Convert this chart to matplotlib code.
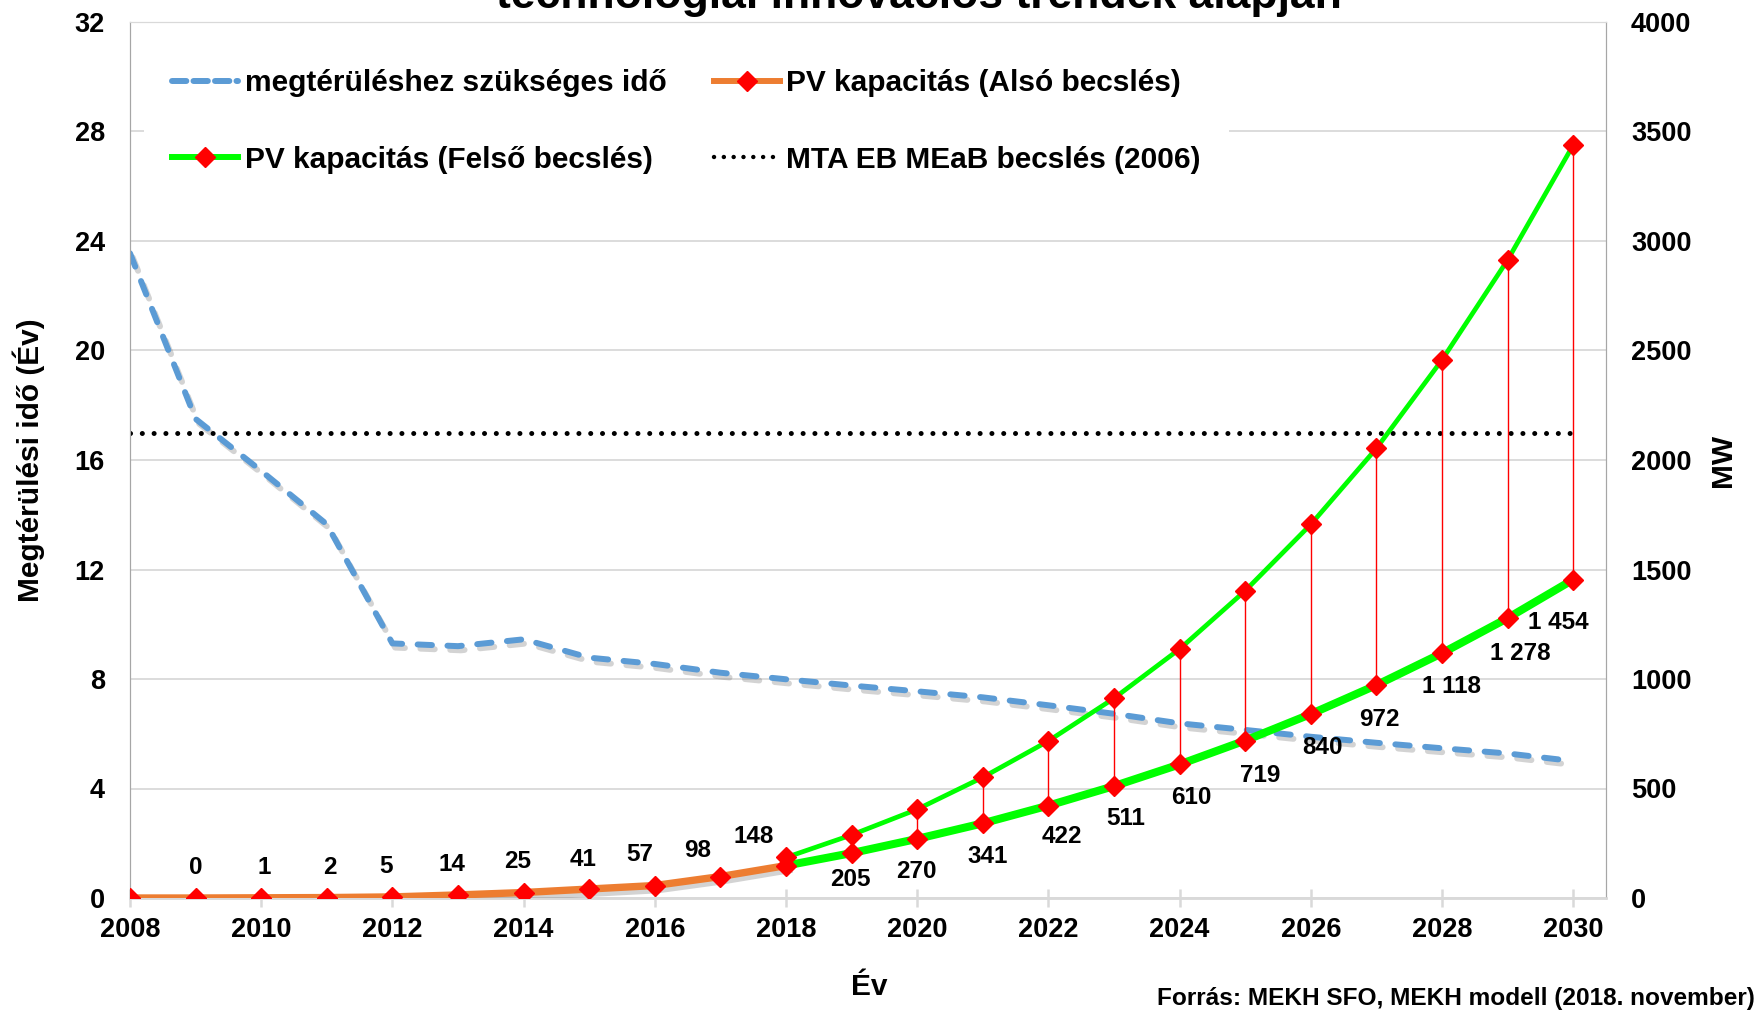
import matplotlib
matplotlib.use('Agg')
import matplotlib.pyplot as plt
import matplotlib.patheffects as pe
from matplotlib.lines import Line2D

plt.rcParams['font.family'] = ['Liberation Sans', 'DejaVu Sans']
plt.rcParams['font.weight'] = 'bold'

# ---------------- data ----------------
years = list(range(2008, 2031))
payback_years = [23.55, 17.5, 15.6, 13.65, 9.3, 9.2, 9.45, 8.78, 8.55, 8.23, 7.99,
                 7.76, 7.55, 7.33, 7.04, 6.73, 6.38, 6.14, 5.89, 5.67, 5.47, 5.28, 5.0]
pv_lower = [0, 0, 1, 2, 5, 14, 25, 41, 57, 98, 148,
            205, 270, 341, 422, 511, 610, 719, 840, 972, 1118, 1278, 1454]
upper_years = list(range(2018, 2031))
pv_upper = [185, 288, 405, 551, 717, 912, 1137, 1403, 1706, 2053, 2457, 2913, 3438]
mta_estimate = 17.0
hist_end = 2018
label_years = list(range(2009, 2031))

legend_labels = ['megtérüléshez szükséges idő', 'PV kapacitás (Felső becslés)',
                 'PV kapacitás (Alsó becslés)', 'MTA EB MEaB becslés (2006)']
title = 'technológiai innovációs trendek alapján'
source = 'Forrás: MEKH SFO, MEKH modell (2018. november)'

# label offsets in pixels (style)
lab_dx = [0, 3, 3, -6, -6, -6, -6, -15, -23, -32, -1, -1, 5, 13, 12, 12, 15, 12, 3, 10, 13, -15]
lab_dy = [30, 30, 30, 30, 30, 31, 30, 31, 26, 29, -26, -33, -33, -31, -32, -33, -35, -33, -34, -33, -35, -43]

BLUE = '#5B9BD5'
ORANGE = '#ED7D31'
GREEN = '#00FF00'
RED = '#FF0000'
GRID = '#D9D9D9'
FS_TICK = 19.5
FS_LAB = 21.5

W, H = 1758, 1011
fig = plt.figure(figsize=(W / 100, H / 100), dpi=100)
L, R, T, B = 130, 1606, 22, 898
ax = fig.add_axes([L / W, 1 - B / H, (R - L) / W, (B - T) / H])
ax2 = ax.twinx()

ax.set_xlim(2008, 2030.5)
ax.set_ylim(0, 32)
ax2.set_ylim(0, 4000)
ax.set_yticks(range(0, 33, 4))
ax2.set_yticks(range(0, 4001, 500))
ax.set_xticks(range(2008, 2031, 2))

ax.yaxis.grid(True, color=GRID, lw=1.3)
ax.set_axisbelow(True)

shadow = [pe.SimpleLineShadow(offset=(2, -3), shadow_color='#707070', alpha=0.3), pe.Normal()]

# payback time (left axis)
ax.plot(years, payback_years, color=BLUE, lw=4.3, linestyle=(0, (2.4, 2.6)),
        dash_capstyle='round', path_effects=shadow, zorder=3)
ax.plot([years[0], years[-1]], [mta_estimate, mta_estimate], color='black', lw=3.6,
        linestyle=(0, (0.01, 2.35)), dash_capstyle='round', zorder=3)

# PV capacity (right axis)
i_h = years.index(hist_end)
ax2.vlines(upper_years, pv_lower[i_h:], pv_upper, color=RED, lw=1.0, zorder=2)
ax2.plot(upper_years, pv_upper, color=GREEN, lw=3.4, zorder=3)
ax2.plot(years[i_h:], pv_lower[i_h:], color=GREEN, lw=5.8, zorder=4)
ax2.plot(years[:i_h + 1], pv_lower[:i_h + 1], color=ORANGE, lw=5.3, zorder=4,
         path_effects=shadow)
ax2.plot(upper_years, pv_upper, linestyle='none', marker='D', ms=10, color=RED, zorder=5)
ax2.plot(years, pv_lower, linestyle='none', marker='D', ms=10, color=RED, zorder=5)

for k, yr in enumerate(label_years):
    v = pv_lower[years.index(yr)]
    txt = f"{v:,}".replace(',', ' ')
    ax2.annotate(txt, (yr, v), xytext=(lab_dx[k], lab_dy[k]), textcoords='offset pixels',
                 ha='center', va='center', fontsize=17.5, fontweight='bold', zorder=6)

# axes styling
for sp in ['left', 'right']:
    ax.spines[sp].set_color('#A6A6A6')
    ax2.spines[sp].set_color('#A6A6A6')
for a in (ax, ax2):
    a.spines['top'].set_color(GRID)
    a.spines['bottom'].set_color(GRID)
    a.spines['bottom'].set_linewidth(1.8)
ax.tick_params(axis='y', length=0, pad=18, labelsize=FS_TICK)
ax2.tick_params(axis='y', length=0, pad=18, labelsize=FS_TICK)
ax.tick_params(axis='x', direction='inout', length=13, width=1.8, color=GRID, pad=7,
               labelsize=FS_TICK)

ax.set_ylabel('Megtérülési idő (Év)', fontsize=FS_LAB, fontweight='bold')
ax.yaxis.set_label_coords((45 - L) / (R - L), 0.5)
ax2.set_ylabel('MW', fontsize=FS_LAB, fontweight='bold', rotation=90)
ax2.yaxis.set_label_coords((1709 - L) / (R - L), 0.5)

fig.text(869 / W, 1 - 987 / H, 'Év', ha='center', va='center', fontsize=FS_LAB, fontweight='bold')
fig.text(1755 / W, 1 - 998 / H, source, ha='right', va='center', fontsize=17.6, fontweight='bold')
fig.text(919 / W, 1 - 8 / H, title, ha='center', va='baseline', fontsize=32, fontweight='bold')

# legend
h_blue = Line2D([], [], color=BLUE, lw=4.3, linestyle=(0, (2.4, 1.2)), dash_capstyle='round')
h_green = Line2D([], [], color=GREEN, lw=4.3, marker='D', ms=10, markerfacecolor=RED,
                 markeredgecolor=RED)
h_orange = Line2D([], [], color=ORANGE, lw=4.3, marker='D', ms=10, markerfacecolor=RED,
                  markeredgecolor=RED)
h_black = Line2D([], [], color='black', lw=3.2, linestyle=(0, (0.01, 2.2)),
                 dash_capstyle='round')
leg = ax2.legend([h_blue, h_green, h_orange, h_black], legend_labels, ncol=2,
                 loc='upper left', bbox_to_anchor=(144 / W, 1 - 41 / H),
                 bbox_transform=fig.transFigure, fontsize=FS_LAB, frameon=True,
                 fancybox=False, framealpha=1, edgecolor='none', facecolor='white',
                 handlelength=2.2, handletextpad=0.22, columnspacing=1.6,
                 labelspacing=1.62, borderpad=0.95, borderaxespad=0)
leg.set_zorder(10)

fig.savefig('out.png', dpi=100)
